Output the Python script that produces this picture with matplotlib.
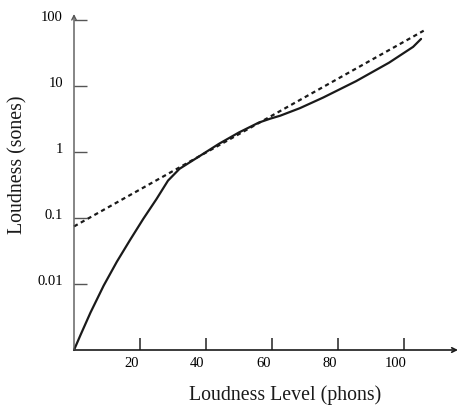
import matplotlib
matplotlib.use("Agg")
import matplotlib.pyplot as plt
import matplotlib.transforms as mtransforms

# Values (loudness level in phons -> loudness in sones)
phons_meas = [0, 2, 5, 9, 13, 17, 21, 25, 28.5, 32, 38, 44, 50, 56, 59.5,
              62.5, 68.5, 75.5, 85.5, 95.5, 102.8, 105.2]
sones_meas = [0.001, 0.0017, 0.0037, 0.0095, 0.0219, 0.0468, 0.0977, 0.195,
              0.372, 0.562, 0.871, 1.35, 2.0, 2.82, 3.24, 3.59, 4.68, 6.76,
              12.0, 22.9, 39.8, 52.5]

phons_rule = [0, 106]
sones_rule = [0.075, 70]

x_ticks = [20, 40, 60, 80, 100]
y_ticks = [0.01, 0.1, 1, 10, 100]
y_tick_labels = ['0.01', '0.1', '1', '10', '100']

plt.rcParams['font.family'] = ['Liberation Serif', 'DejaVu Serif']

fig = plt.figure(figsize=(4.6, 4.05), dpi=100)
ax = fig.add_axes([74 / 460, 55 / 405, 384 / 460, 336 / 405])

ax.set_yscale('log')
ax.set_xlim(0, 116.4)
ax.set_ylim(0.001, 10 ** (2 + 6.5 / 66))

ink = '#1a1a1a'
ax.plot(phons_meas, sones_meas, color=ink, lw=1.6, solid_capstyle='round',
        solid_joinstyle='round', clip_on=False)
ax.plot(phons_rule, sones_rule, color=ink, lw=1.6, dashes=(1.9, 1.6),
        clip_on=False)

# axes drawn as arrows
for s in ax.spines.values():
    s.set_visible(False)
ax.annotate('', xy=(1, 0), xytext=(0, 0), xycoords='axes fraction',
            arrowprops=dict(arrowstyle='->', color=ink, lw=1.2,
                            shrinkA=0, shrinkB=0, mutation_scale=8))
ax.annotate('', xy=(0, 1), xytext=(0, 0), xycoords='axes fraction',
            arrowprops=dict(arrowstyle='->', color='#555555', lw=1.0,
                            shrinkA=0, shrinkB=0, mutation_scale=8))

ax.set_xticks(x_ticks)
ax.set_yticks(y_ticks)
ax.set_yticklabels(y_tick_labels)
ax.minorticks_off()
ax.tick_params(axis='x', direction='in', length=9, width=1.2, color='#333333',
               labelsize=10.5, pad=5)
ax.tick_params(axis='y', direction='in', length=9.5, width=1.0, color='#555555',
               labelsize=10.5, pad=8)

# tick labels sit a little off their ticks in the reference
for lab in ax.get_xticklabels():
    lab.set_transform(lab.get_transform() +
                      mtransforms.ScaledTranslation(-8.5 / 100, 0, fig.dpi_scale_trans))
for lab in ax.get_yticklabels():
    lab.set_transform(lab.get_transform() +
                      mtransforms.ScaledTranslation(0, 4 / 100, fig.dpi_scale_trans))

ax.set_xlabel('Loudness Level (phons)', fontsize=14.3, color=ink)
ax.set_ylabel('Loudness (sones)', fontsize=14.3, color=ink)
ax.xaxis.set_label_coords(0.549, -0.105)
ax.yaxis.set_label_coords(-0.12, 0.55)

fig.savefig('out.png', dpi=100)
